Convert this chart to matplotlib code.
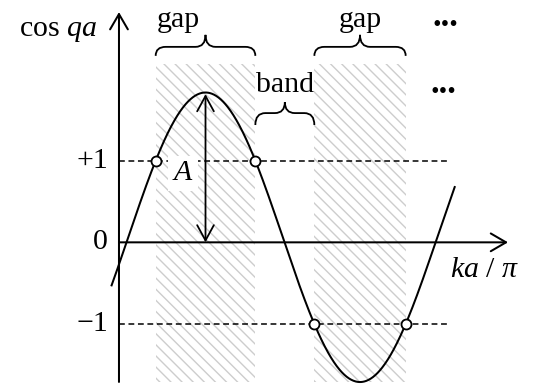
import numpy as np
import matplotlib
matplotlib.use("Agg")
import matplotlib.pyplot as plt
from matplotlib.patches import Rectangle, PathPatch, FancyArrowPatch
from matplotlib.path import Path

plt.rcParams["font.family"] = ["Liberation Serif", "DejaVu Serif"]
plt.rcParams["mathtext.fontset"] = "custom"
plt.rcParams["mathtext.rm"] = "Liberation Serif"
plt.rcParams["mathtext.it"] = "Liberation Serif:italic"
plt.rcParams["hatch.linewidth"] = 1.0

# Schematic band-structure condition: cos(qa) = offset + amplitude * cos(pi*(x - peak))
offset = 0.062
amplitude = 1.773
peak_x = 0.56
curve_range = (-0.05, 2.175)

level_values = [1, 0, -1]
level_labels = ["+1", "0", "\u22121"]

gap_labels = ["gap", "gap"]
band_label = "band"

FS = 21.5


def f(x):
    return offset + amplitude * np.cos(np.pi * (x - peak_x))


# band edges where |cos qa| = 1
d_up = np.arccos((1 - offset) / amplitude) / np.pi
d_dn = np.arccos((-1 - offset) / amplitude) / np.pi
gaps = [(peak_x - d_up, peak_x + d_up), (peak_x + d_dn, peak_x + 2 - d_dn)]
band = (gaps[0][1], gaps[1][0])

fig = plt.figure(figsize=(5.34, 3.84), dpi=100)
ax = fig.add_axes([0, 0, 1, 1])
ax.set_xlim(-0.770, 2.686)
ax.set_ylim(-1.735, 2.968)
ax.axis("off")

y_bottom = -1.71
y_hatch_top = 2.184

# shaded gaps
for g0, g1 in gaps:
    ax.add_patch(Rectangle((g0, y_bottom), g1 - g0, y_hatch_top - y_bottom,
                           fill=False, edgecolor="#cdcdcd", linewidth=0,
                           hatch="\\\\\\", zorder=1))

lw_axis = 1.45
arrow_kw = dict(arrowstyle="->,head_length=0.55,head_width=0.32",
                mutation_scale=20, color="black", lw=lw_axis,
                shrinkA=0, shrinkB=0, zorder=4)

# axes with arrow heads
ax.add_patch(FancyArrowPatch((0, y_bottom), (0, 2.82), **arrow_kw))
ax.add_patch(FancyArrowPatch((0, 0), (2.518, 0), **arrow_kw))

# dashed +1 / -1 levels
for yv in (1, -1):
    ax.plot([0, 2.12], [yv, yv], color="black", lw=1.1,
            dashes=(3.8, 2.4), zorder=3)

# curve
xs = np.linspace(*curve_range, 600)
ax.plot(xs, f(xs), color="black", lw=1.45, zorder=5,
        solid_capstyle="butt")

# band-edge markers
edges = [gaps[0][0], gaps[0][1], gaps[1][0], gaps[1][1]]
ax.plot(edges, f(np.array(edges)), "o", ms=7.2, mfc="white",
        mec="black", mew=1.3, zorder=6)

# amplitude arrow
peak_val = offset + amplitude
ax.add_patch(FancyArrowPatch((peak_x, 0), (peak_x, peak_val - 0.02),
                             arrowstyle="<->,head_length=0.55,head_width=0.3",
                             mutation_scale=20, color="black", lw=1.3,
                             shrinkA=0, shrinkB=0, zorder=4))
ax.text(0.414, 0.845, "$A$", fontsize=FS, ha="center", va="center", zorder=7,
        bbox=dict(facecolor="white", edgecolor="none", pad=3.0))

# level labels
for yv, lab in zip(level_values, level_labels):
    ax.text(-0.07, yv, lab, fontsize=FS, ha="right", va="center")

# axis titles
ax.text(-0.142, 2.527, "cos $qa$", fontsize=FS, ha="right", va="baseline")
ax.text(2.142, -0.424, r"$ka$ / $\pi$", fontsize=FS, ha="left", va="baseline")

# braces
sx, sy = 154.5, 81.65  # pixels per data unit


def brace(x0, x1, y_end, y_line, y_tip, r_px=10):
    rx = r_px / sx
    xm = 0.5 * (x0 + x1)
    verts = [(x0, y_end), (x0, y_line), (x0 + rx, y_line),
             (xm - rx, y_line), (xm, y_line), (xm, y_tip),
             (xm, y_line), (xm + rx, y_line),
             (x1 - rx, y_line), (x1, y_line), (x1, y_end)]
    codes = [Path.MOVETO, Path.CURVE3, Path.CURVE3,
             Path.LINETO, Path.CURVE3, Path.CURVE3,
             Path.CURVE3, Path.CURVE3,
             Path.LINETO, Path.CURVE3, Path.CURVE3]
    ax.add_patch(PathPatch(Path(verts, codes), facecolor="none",
                           edgecolor="black", lw=1.3, zorder=4))
    return xm


for g0, g1 in gaps:
    brace(g0, g1, 2.284, 2.394, 2.541)
brace(band[0], band[1], 1.437, 1.583, 1.718)

ax.text(0.382, 2.637, gap_labels[0], fontsize=FS, ha="center", va="baseline")
ax.text(0.5 * (gaps[1][0] + gaps[1][1]), 2.637, gap_labels[1], fontsize=FS,
        ha="center", va="baseline")
ax.text(0.5 * (band[0] + band[1]), 1.841, band_label, fontsize=FS,
        ha="center", va="baseline")

# continuation dots
ax.text(2.11, 2.655, "...", fontsize=25, fontweight="bold", ha="center",
        va="baseline")
ax.text(2.097, 1.835, "...", fontsize=25, fontweight="bold", ha="center",
        va="baseline")

fig.savefig("out.png", dpi=100)
